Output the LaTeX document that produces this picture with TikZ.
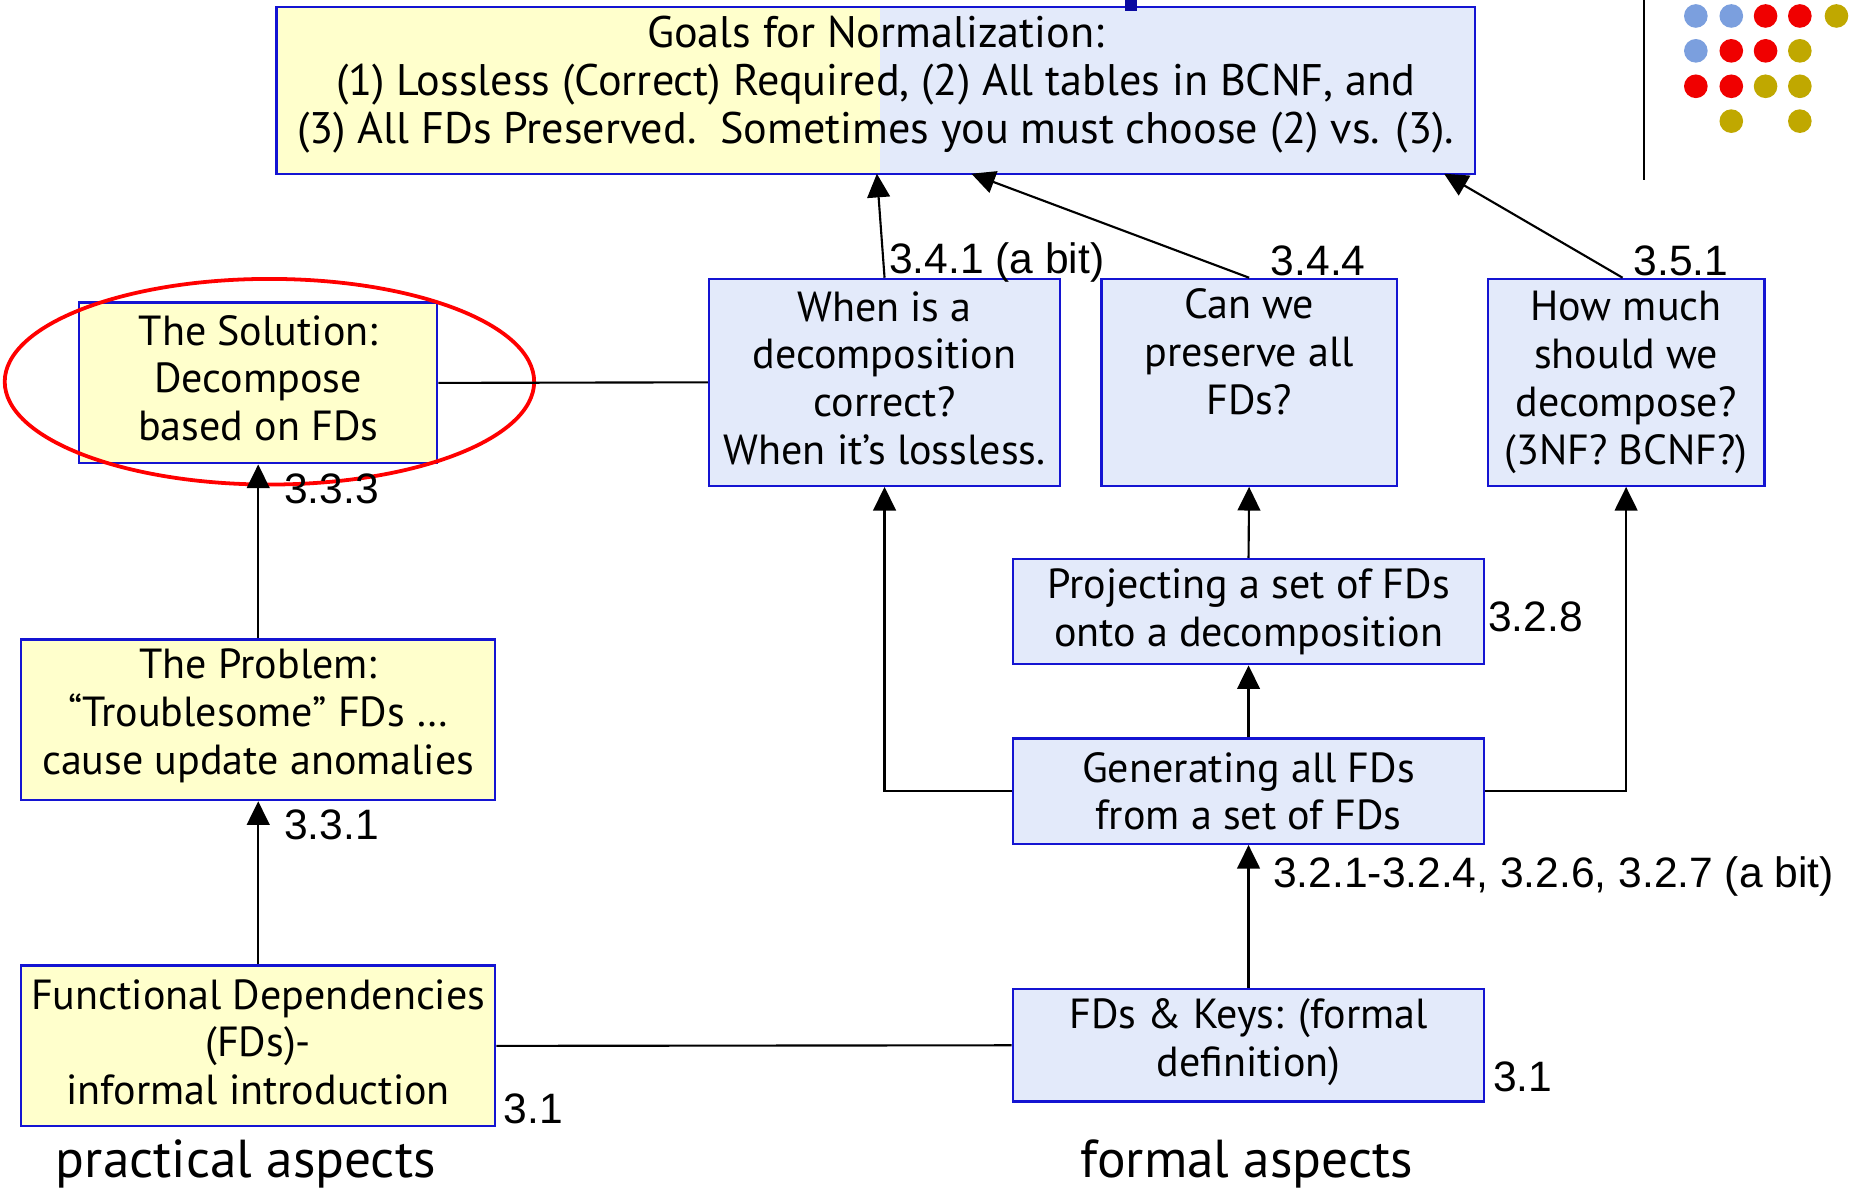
\documentclass[tikz,border=0pt]{standalone}
\usepackage{fontspec}
\setmainfont{PT Sans}
\newfontfamily\labelfont{Liberation Sans}
\usetikzlibrary{arrows.meta}
\definecolor{boxyellow}{HTML}{FFFFCC}
\definecolor{boxblue}{HTML}{E3EAFA}
\definecolor{boxedge}{HTML}{1414D2}
\definecolor{markblue}{HTML}{0A0AA0}
\definecolor{dotblue}{HTML}{7B9FDE}
\definecolor{dotred}{HTML}{F00000}
\definecolor{dotolive}{HTML}{C0A800}
\newcommand{\boxfont}{\fontsize{17.8}{20.25}\selectfont}
\newcommand{\goalfont}{\fontsize{18.7}{20.25}\selectfont}
\begin{document}
\begin{tikzpicture}[x=0.5pt,y=-0.5pt,
  box/.style={draw=boxedge, line width=1pt, align=center, inner sep=0pt, font=\boxfont},
  ybox/.style={box, fill=boxyellow},
  bbox/.style={box, fill=boxblue},
  conn/.style={line width=0.9pt},
  arr/.style={conn, -{Triangle[length=10pt,width=9.6pt]}},
  lbl/.style={font=\labelfont\fontsize{18}{20}\selectfont, inner sep=0pt, anchor=base west},
  aspect/.style={font=\fontsize{22.6}{26}\selectfont, inner sep=0pt, anchor=base},
  dot/.style={circle, inner sep=0pt, minimum size=10pt}]
\useasboundingbox (0,0) rectangle (1568,1009);
% decoration top right
\draw[line width=1pt] (1391,0) coordinate (vl1) -- (1391,152) coordinate (vl2);
\foreach \x/\y/\c [count=\i] in {1435/13.5/dotblue,1465/13.5/dotblue,1494/13.5/dotred,1523/13.5/dotred,1554/13.5/dotolive,
  1435/43/dotblue,1465/43/dotred,1494/43/dotred,1523/43/dotolive,
  1435/73/dotred,1465/73/dotred,1494/73/dotolive,1523/73/dotolive,
  1465/102.5/dotolive,1523/102.5/dotolive}
  \node[dot, fill=\c] (dot\i) at (\x,\y) {};
% goals box
\node[box, minimum width=507pt, minimum height=70.5pt,
  path picture={\fill[boxyellow] (path picture bounding box.south west) rectangle ([xshift=2pt]path picture bounding box.north);
                \fill[boxblue] ([xshift=2pt]path picture bounding box.south) rectangle (path picture bounding box.north east);}]
  (goals) at (741,76.5) {};
\node[font=\goalfont, align=center, inner sep=0pt] (goalstext) at (741,71.5)
  {Goals for Normalization:\\(1) Lossless (Correct) Required, (2) All tables in BCNF, and\\(3) All FDs Preserved.\ \ Sometimes you must choose (2) vs. (3).};
\fill[markblue] (952,0) rectangle (962,9);
\coordinate (g1) at (742,147);
\coordinate (g2) at (822,147);
\coordinate (g3) at (1222,147);
% left column
\node[ybox, minimum width=151.5pt, minimum height=68pt] (solution) at (218.5,324)
  {The Solution:\\Decompose\\based on FDs\vspace{4pt}};
\node[ybox, minimum width=200.5pt, minimum height=68pt] (problem) at (218.5,609)
  {The Problem:\\“Troublesome” FDs …\\cause update anomalies\vspace{3pt}};
\node[ybox, minimum width=200.5pt, minimum height=68pt] (fdinf) at (218.5,885)
  {Functional Dependencies\\(FDs)-\\informal introduction\vspace{3pt}};
% right part
\node[bbox, minimum width=148.5pt, minimum height=87.5pt] (when) at (748.5,323.5)
  {When is a\\decomposition\\correct?\\When it’s lossless.\vspace{3.5pt}};
\node[bbox, minimum width=125pt, minimum height=87.5pt] (canwe) at (1057,323.5)
  {Can we\\preserve all\\FDs?\\\strut};
\node[bbox, minimum width=117pt, minimum height=87.5pt] (howmuch) at (1376,323.5)
  {How much\\should we\\decompose?\\(3NF? BCNF?)};
\node[bbox, minimum width=199.5pt, minimum height=44.5pt] (project) at (1056.5,517.5)
  {Projecting a set of FDs\\onto a decomposition};
\node[bbox, minimum width=199.5pt, minimum height=44.5pt] (generate) at (1056.5,669.5)
  {Generating all FDs\\from a set of FDs};
\node[bbox, minimum width=199.5pt, minimum height=47.5pt] (fdkeys) at (1056.5,884.5)
  {FDs \& Keys: (formal\\definition)\vspace{3pt}};
% ellipse
\draw[red, line width=1.6pt] (228,323) ellipse [x radius=112pt, y radius=43.5pt];
% connectors
\draw[conn] (solution.east) -- (when.west);
\draw[conn] (fdinf.east) -- (fdkeys.west);
\draw[arr] (problem.north) -- (solution.south);
\draw[arr] (fdinf.north) -- (problem.south);
\draw[arr] (fdkeys.north) -- (generate.south);
\draw[arr] (generate.north) -- (project.south);
\draw[arr] (project.north) -- (canwe.south);
\draw[arr] (generate.west) -| (when.south);
\draw[arr] (generate.east) -| (howmuch.south);
\draw[arr] (when.north) -- (g1);
\draw[arr] (canwe.north) -- (g2);
\draw[arr] ([xshift=-1.5pt]howmuch.north) -- (g3);
% labels
\node[lbl] (l341) at (752,231) {3.4.1 (a bit)};
\node[lbl] (l344) at (1075,233) {3.4.4};
\node[lbl] (l351) at (1382,233) {3.5.1};
\node[lbl] (l333) at (240,426) {3.3.3};
\node[lbl] (l331) at (240,710) {3.3.1};
\node[lbl] (l328) at (1259,534) {3.2.8};
\node[lbl] (l321) at (1077,751) {3.2.1-3.2.4, 3.2.6, 3.2.7 (a bit)};
\node[lbl] (l31a) at (426,951) {3.1};
\node[lbl] (l31b) at (1263,924) {3.1};
\node[aspect] (practical) at (208,996) {practical aspects};
\node[aspect] (formal) at (1055,996) {formal aspects};
\end{tikzpicture}
\end{document}
